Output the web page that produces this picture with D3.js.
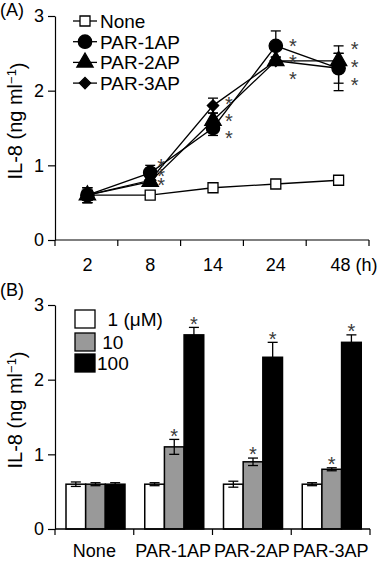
<!DOCTYPE html>
<html><head><meta charset="utf-8">
<script src="https://cdn.jsdelivr.net/npm/d3@7"></script>
<style>
body{margin:0;background:#fff}
svg{display:block}
text{font-family:"Liberation Sans",Arial,Helvetica,sans-serif;fill:#000}
</style>
</head><body>
<svg id="c" width="379" height="564"></svg>
<script>
// ---------- Panel A data ----------
const timeLabels = ["2","8","14","24","48"];
const seriesNames = ["None","PAR-1AP","PAR-2AP","PAR-3AP"];
const noneVals = [0.6,0.6,0.7,0.75,0.8];
const noneErr  = [0.03,0.04,0.03,0.03,0.03];
const par1Vals = [0.6,0.9,1.5,2.6,2.3];
const par1Err  = [0.1,0.1,0.1,0.2,0.3];
const par2Vals = [0.6,0.78,1.6,2.4,2.4];
const par2Err  = [0.1,0.05,0.1,0.05,0.1];
const par3Vals = [0.6,0.8,1.8,2.4,2.3];
const par3Err  = [0.1,0.05,0.1,0.05,0.2];
// significance asterisk levels (IL-8 units) at each time point
const starLevelsA = [[],[1.05,0.92,0.8],[1.88,1.65,1.42],[2.66,2.44,2.21],[2.62,2.38,2.14]];
const yTicks = [0,1,2,3];

// ---------- Panel B data ----------
const groupsB = ["None","PAR-1AP","PAR-2AP","PAR-3AP"];
const concLabels = ["1 (\u03bcM)","10","100"];
const conc1     = [0.6,0.6,0.6,0.6];
const conc1Err  = [0.03,0.02,0.04,0.02];
const conc10    = [0.6,1.1,0.9,0.8];
const conc10Err = [0.02,0.1,0.05,0.02];
const conc100   = [0.6,2.6,2.3,2.5];
const conc100Err= [0.02,0.1,0.2,0.1];
const starsB    = [[false,false,false],[false,true,true],[false,true,true],[false,true,true]];

const svg = d3.select("#c");
const FONT_TICK = 18, FONT_LEG = 19, FONT_TITLE = 20, FONT_CAT = 18;

function starText(g, x, yc, fs){
  g.append("text").attr("x",x).attr("y",yc + 0.57*fs)
    .attr("text-anchor","middle").style("font-size",fs+"px").style("fill","#3a3a3a").text("*");
}

function yAxisTitle(g, x, yc){
  const t = g.append("text").attr("transform",`translate(${x},${yc}) rotate(-90)`)
    .attr("text-anchor","middle").style("font-size",FONT_TITLE+"px");
  t.append("tspan").text("IL-8 (ng ml");
  t.append("tspan").attr("dy","-0.45em").style("font-size","13px").text("\u22121");
  t.append("tspan").attr("dy","0.45em").text(")");
}

// ================= Panel A =================
{
  const g = svg.append("g");
  const x = d3.scaleBand().domain(timeLabels).range([55,369]).padding(0);
  const y = d3.scaleLinear().domain([0,3]).range([240,16]);
  const cx = d => x(d) + x.bandwidth()/2 + 1;

  // y axis
  const ya = g.append("g").attr("transform","translate(55,0)")
    .call(d3.axisLeft(y).tickValues(yTicks).tickFormat(d3.format("d")).tickSize(7).tickPadding(4).tickSizeOuter(0));
  ya.selectAll("text").style("font-size",FONT_TICK+"px").attr("font-family",null);
  ya.selectAll("path,line").attr("stroke","#000").attr("stroke-width",1.2);

  // x axis line and boundary ticks
  g.append("line").attr("x1",x.range()[0]).attr("x2",x.range()[1]).attr("y1",y(0)).attr("y2",y(0))
    .attr("stroke","#000").attr("stroke-width",1.2);
  const bounds = timeLabels.map(d => x(d)).concat([x.range()[1]]);
  g.selectAll(".bt").data(bounds).enter().append("line")
    .attr("x1",d=>d).attr("x2",d=>d).attr("y1",y(0)).attr("y2",y(0)+6)
    .attr("stroke","#000").attr("stroke-width",1.2);
  g.selectAll(".xl").data(timeLabels).enter().append("text")
    .attr("x",d=>cx(d)+ (d==="48"?2:0)).attr("y",y(0)+31).attr("text-anchor","middle")
    .style("font-size",FONT_TICK+"px").text(d=>d);
  g.append("text").attr("x",cx("48")+17).attr("y",y(0)+31).style("font-size",FONT_TICK+"px").text("(h)");

  yAxisTitle(g, 22, 121);
  g.append("text").attr("x",0).attr("y",16).style("font-size","18px").text("(A)");

  const series = [
    {name:seriesNames[0], vals:noneVals, err:noneErr, sym:d3.symbolSquare, size:100, fill:"#fff", rot:0},
    {name:seriesNames[1], vals:par1Vals, err:par1Err, sym:d3.symbolCircle, size:140, fill:"#000", rot:0},
    {name:seriesNames[2], vals:par2Vals, err:par2Err, sym:d3.symbolTriangle, size:115, fill:"#000", rot:0},
    {name:seriesNames[3], vals:par3Vals, err:par3Err, sym:d3.symbolSquare, size:64, fill:"#000", rot:45}
  ];
  const line = d3.line().x((d,i)=>cx(timeLabels[i])).y(d=>y(d));

  series.forEach(s=>{
    g.append("path").attr("d",line(s.vals)).attr("fill","none").attr("stroke","#000").attr("stroke-width",1.3);
  });
  series.forEach(s=>{
    s.vals.forEach((v,i)=>{
      const xx = cx(timeLabels[i]);
      const y1 = y(v+s.err[i]), y2 = y(v-s.err[i]);
      g.append("line").attr("x1",xx).attr("x2",xx).attr("y1",y1).attr("y2",y2).attr("stroke","#000").attr("stroke-width",1.3);
      [y1,y2].forEach(yy=>g.append("line").attr("x1",xx-5).attr("x2",xx+5).attr("y1",yy).attr("y2",yy).attr("stroke","#000").attr("stroke-width",1.3));
    });
  });
  series.forEach(s=>{
    const sym = d3.symbol().type(s.sym).size(s.size);
    s.vals.forEach((v,i)=>{
      g.append("path").attr("d",sym()).attr("transform",`translate(${cx(timeLabels[i])},${y(v)}) rotate(${s.rot})`)
        .attr("fill",s.fill).attr("stroke","#000").attr("stroke-width",1.3);
    });
  });
  // asterisks
  const starDx = [0,11,16,17,16];
  starLevelsA.forEach((lv,i)=>{
    lv.forEach(v=>starText(g, cx(timeLabels[i])+starDx[i], y(v), 20));
  });

  // legend
  const leg = g.append("g");
  series.forEach((s,i)=>{
    const yy = 21 + i*20.7;
    leg.append("line").attr("x1",73).attr("x2",97).attr("y1",yy).attr("y2",yy).attr("stroke","#000").attr("stroke-width",1.3);
    leg.append("path").attr("d",d3.symbol().type(s.sym).size(s.size)()).attr("transform",`translate(85,${yy}) rotate(${s.rot})`)
      .attr("fill",s.fill).attr("stroke","#000").attr("stroke-width",1.3);
    leg.append("text").attr("x",100).attr("y",yy+7).style("font-size",FONT_LEG+"px").text(s.name);
  });
}

// ================= Panel B =================
{
  const g = svg.append("g");
  const x = d3.scaleBand().domain(groupsB).range([55,370]).padding(0);
  const xi = d3.scaleBand().domain([0,1,2]).range([11,70]).padding(0);
  const y = d3.scaleLinear().domain([0,3]).range([529,305]);
  const colors = ["#ffffff","#999999","#000000"];
  const vals = [conc1,conc10,conc100], errs = [conc1Err,conc10Err,conc100Err];

  const ya = g.append("g").attr("transform","translate(55,0)")
    .call(d3.axisLeft(y).tickValues(yTicks).tickFormat(d3.format("d")).tickSize(7).tickPadding(4).tickSizeOuter(0));
  ya.selectAll("text").style("font-size",FONT_TICK+"px").attr("font-family",null);
  ya.selectAll("path,line").attr("stroke","#000").attr("stroke-width",1.2);

  yAxisTitle(g, 22, 410);
  g.append("text").attr("x",0).attr("y",296).style("font-size","18px").text("(B)");

  groupsB.forEach((grp,gi)=>{
    [0,1,2].forEach(k=>{
      const v = vals[k][gi], e = errs[k][gi];
      const bx = x(grp)+xi(k), bw = xi.bandwidth();
      g.append("rect").attr("x",bx).attr("y",y(v)).attr("width",bw).attr("height",y(0)-y(v))
        .attr("fill",colors[k]).attr("stroke","#000").attr("stroke-width",1.5);
      const mx = bx + bw/2;
      const y1 = y(v+e), y2 = y(v-e);
      g.append("line").attr("x1",mx).attr("x2",mx).attr("y1",y1).attr("y2",y2).attr("stroke","#000").attr("stroke-width",1.3);
      [y1,y2].forEach(yy=>g.append("line").attr("x1",mx-5).attr("x2",mx+5).attr("y1",yy).attr("y2",yy).attr("stroke","#000").attr("stroke-width",1.3));
      if(starsB[gi][k]) starText(g, mx, y1-8, 20);
    });
  });

  // x axis
  g.append("line").attr("x1",x.range()[0]).attr("x2",x.range()[1]).attr("y1",y(0)).attr("y2",y(0))
    .attr("stroke","#000").attr("stroke-width",1.3);
  const bounds = groupsB.map(d=>x(d)).concat([x.range()[1]]);
  g.selectAll(".bt").data(bounds).enter().append("line")
    .attr("x1",d=>d).attr("x2",d=>d).attr("y1",y(0)).attr("y2",y(0)+6)
    .attr("stroke","#000").attr("stroke-width",1.2);
  g.selectAll(".xl").data(groupsB).enter().append("text")
    .attr("x",d=>x(d)+x.bandwidth()/2).attr("y",557).attr("text-anchor","middle")
    .style("font-size",FONT_CAT+"px").text(d=>d);

  // legend
  const legLabels = ["  "+concLabels[0]," "+concLabels[1],concLabels[2]];
  [0,1,2].forEach(k=>{
    const yy = [319,342,363][k];
    g.append("rect").attr("x",75).attr("y",yy-9).attr("width",20).attr("height",18)
      .attr("fill",colors[k]).attr("stroke","#000").attr("stroke-width",1.3);
    g.append("text").attr("x",97).attr("y",yy+7).style("font-size",FONT_LEG+"px")
      .style("white-space","pre").attr("xml:space","preserve").text(legLabels[k]);
  });
}
</script>
</body></html>
